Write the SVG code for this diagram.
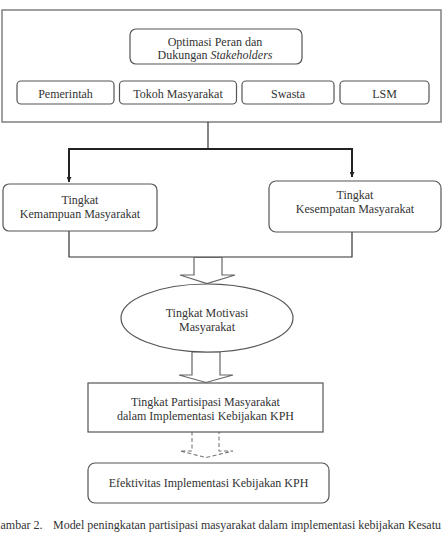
<svg xmlns="http://www.w3.org/2000/svg" width="442" height="540" viewBox="0 0 442 540" font-family="'Liberation Serif', 'DejaVu Serif', serif">
<defs>
<marker id="ah" viewBox="0 0 10 10" refX="10" refY="5" markerWidth="5" markerHeight="5" markerUnits="userSpaceOnUse" orient="auto">
<path d="M0,0 L10,5 L0,10 z" fill="#222"/>
</marker>
</defs>
<style>
text{font-family:'Liberation Serif','DejaVu Serif',serif;font-size:12px;fill:#333;text-anchor:middle}
.box{fill:#fff;stroke:#555;stroke-width:1.2}
.outer{fill:#fff;stroke:#888;stroke-width:1.6}
.ln{fill:none;stroke:#333;stroke-width:1.2}
.arr{fill:none;stroke:#222;stroke-width:2}
.blk{fill:#fff;stroke:#666;stroke-width:1.2}
.dash{fill:#fff;stroke:#777;stroke-width:1.1;stroke-dasharray:4,2.5}
</style>
<g id="stakeholders">
<rect class="outer" x="2" y="10" width="439" height="112"/>
</g>
<g id="optimasi">
<rect class="box" x="130" y="29" width="172" height="35" rx="6"/>
<text x="215" y="45.5">Optimasi Peran  dan</text>
<text x="215" y="58.5">Dukungan  <tspan font-style="italic">Stakeholders</tspan></text>
</g>
<g id="pemerintah">
<rect class="box" x="17" y="81" width="97" height="23" rx="4"/>
<text x="65.5" y="97.5">Pemerintah</text>
</g>
<g id="tokoh">
<rect class="box" x="119.5" y="81" width="117" height="23" rx="4"/>
<text x="178" y="97.5">Tokoh  Masyarakat</text>
</g>
<g id="swasta">
<rect class="box" x="242" y="81" width="92" height="23" rx="4"/>
<text x="288" y="97.5">Swasta</text>
</g>
<g id="lsm">
<rect class="box" x="340" y="81" width="89" height="23" rx="4"/>
<text x="384.5" y="97.5">LSM</text>
</g>
<g id="connectors">
<path class="ln" d="M208,122 V149"/>
<path class="arr" d="M69,149 H352"/>
<path class="arr" d="M69,148 V182" marker-end="url(#ah)"/>
<path class="arr" d="M352,148 V177" marker-end="url(#ah)"/>
<path class="ln" d="M69,231 V257 H352 V232"/>
<path class="blk" d="M194,257.5 H222 V275 H235 L207,283.5 L180,275 H194 Z"/>
<path class="blk" d="M192,352 H220 V375 H233 L206,382.5 L179,375 H192 Z"/>
<path class="dash" d="M192,431 H219 V451 H233 L206,457.5 L180,451 H192 Z"/>
</g>
<g id="kemampuan">
<rect class="box" x="3" y="184" width="154" height="47" rx="6"/>
<text x="80" y="204">Tingkat</text>
<text x="80" y="217.5">Kemampuan Masyarakat</text>
</g>
<g id="kesempatan">
<rect class="box" x="269" y="181" width="172" height="51" rx="7"/>
<text x="355" y="199">Tingkat</text>
<text x="355" y="213">Kesempatan Masyarakat</text>
</g>
<g id="motivasi">
<ellipse class="box" cx="207" cy="318" rx="86" ry="34"/>
<text x="207" y="317">Tingkat Motivasi</text>
<text x="207" y="331">Masyarakat</text>
</g>
<g id="partisipasi">
<rect class="box" x="88" y="383" width="235" height="49" stroke="#333"/>
<text x="205.5" y="406">Tingkat Partisipasi Masyarakat</text>
<text x="205.5" y="419.5">dalam Implementasi Kebijakan KPH</text>
</g>
<g id="efektivitas">
<rect class="box" x="88" y="463" width="241" height="40" rx="7"/>
<text x="208.5" y="487">Efektivitas Implementasi Kebijakan KPH</text>
</g>
<g id="caption">
<text x="0.5" y="529" style="text-anchor:start">ambar 2.</text>
<text x="53" y="529" style="text-anchor:start" textLength="388" lengthAdjust="spacingAndGlyphs">Model peningkatan partisipasi masyarakat dalam implementasi kebijakan Kesatu</text>
</g>
</svg>
